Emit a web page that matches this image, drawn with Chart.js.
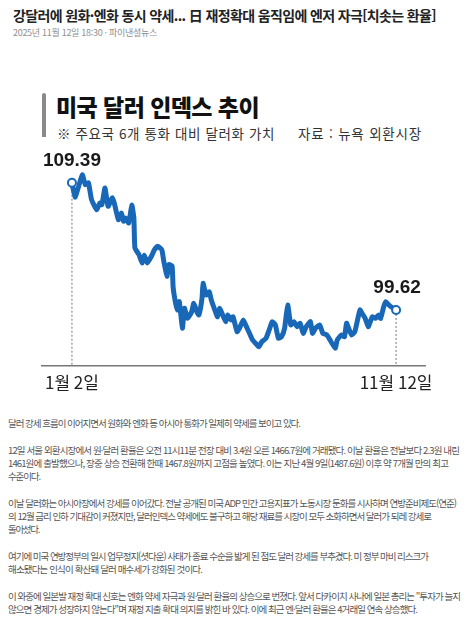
<!DOCTYPE html>
<html lang="ko">
<head>
<meta charset="utf-8">
<title>미국 달러 인덱스 추이</title>
<script src="https://cdn.jsdelivr.net/npm/chart.js@4.4.1/dist/chart.umd.min.js"></script>
<style>
  html, body { margin: 0; padding: 0; background: #fff; }
  body { width: 470px; height: 626px; position: relative; overflow: hidden; font-family: "Noto Sans CJK KR", sans-serif; }
  .abs { position: absolute; white-space: nowrap; }
  .fit { display: inline-block; white-space: nowrap; }
  #headline { left: 13px; top: 6px; font-size: 14px; line-height: 18px; font-weight: 700; color: #222; }
  #meta { left: 13px; top: 27px; font-size: 9px; line-height: 12px; color: #8f8f8f; }
  #bar { position: absolute; left: 42px; top: 93px; width: 3.5px; height: 44px; background: #8a8a8a; border-radius: 2px 2px 0 0; }
  #ctitle { left: 56px; top: 93px; font-size: 23px; line-height: 26px; font-weight: 900; color: #111; }
  #csub1 { left: 57px; top: 125px; font-size: 13.5px; line-height: 16px; color: #333; }
  #csub2 { left: 298px; top: 125px; font-size: 13.5px; line-height: 16px; color: #333; }
  #chartBox { position: absolute; left: 0; top: 140px; width: 470px; height: 260px; }
  #article { position: absolute; left: 8px; top: 417px; font-size: 9.5px; line-height: 13.3px; color: #555; }
  #article p { margin: 0 0 13.3px 0; }
  #article .ln { white-space: nowrap; }
</style>
</head>
<body>
<div class="abs" id="headline"><span class="fit" data-w="423">강달러에 원화·엔화 동시 약세... 日 재정확대 움직임에 엔저 자극[치솟는 환율]</span></div>
<div class="abs" id="meta"><span class="fit" data-w="144">2025년 11월 12일 18:30 · 파이낸셜뉴스</span></div>

<div id="bar"></div>
<div class="abs" id="ctitle"><span class="fit" data-w="203">미국 달러 인덱스 추이</span></div>
<div class="abs" id="csub1"><span class="fit" data-w="218">※ 주요국 6개 통화 대비 달러화 가치</span></div>
<div class="abs" id="csub2"><span class="fit" data-w="124">자료 : 뉴욕 외환시장</span></div>

<div id="chartBox"><canvas id="dxyChart"></canvas></div>

<div id="article">
  <p><span class="ln fit" data-w="292">달러 강세 흐름이 이어지면서 원화와 엔화 등 아시아 통화가 일제히 약세를 보이고 있다.</span></p>
  <p>
    <span class="ln fit" data-w="451">12일 서울 외환시장에서 원·달러 환율은 오전 11시11분 전장 대비 3.4원 오른 1466.7원에 거래됐다. 이날 환율은 전날보다 2.3원 내린</span><br>
    <span class="ln fit" data-w="440">1461원에 출발했으나, 장중 상승 전환해 한때 1467.8원까지 고점을 높였다. 이는 지난 4월 9일(1487.6원) 이후 약 7개월 만의 최고</span><br>
    <span class="ln fit" data-w="32">수준이다.</span>
  </p>
  <p>
    <span class="ln fit" data-w="448">이날 달러화는 아시아장에서 강세를 이어갔다. 전날 공개된 미국 ADP 민간 고용지표가 노동시장 둔화를 시사하며 연방준비제도(연준)</span><br>
    <span class="ln fit" data-w="423">의 12월 금리 인하 기대감이 커졌지만, 달러인덱스 약세에도 불구하고 해당 재료를 시장이 모두 소화하면서 달러가 되레 강세로</span><br>
    <span class="ln fit" data-w="31">돌아섰다.</span>
  </p>
  <p>
    <span class="ln fit" data-w="420">여기에 미국 연방정부의 일시 업무정지(셧다운) 사태가 종료 수순을 밟게 된 점도 달러 강세를 부추겼다. 미 정부 마비 리스크가</span><br>
    <span class="ln fit" data-w="194">해소됐다는 인식이 확산돼 달러 매수세가 강화된 것이다.</span>
  </p>
  <p>
    <span class="ln fit" data-w="452">이 와중에 일본발 재정 확대 신호는 엔화 약세 자극과 원·달러 환율의 상승으로 번졌다. 앞서 다카이치 사나에 일본 총리는 "투자가 늘지</span><br>
    <span class="ln fit" data-w="409">않으면 경제가 성장하지 않는다"며 재정 지출 확대 의지를 밝힌 바 있다. 이에 최근 엔·달러 환율은 4거래일 연속 상승했다.</span>
  </p>
</div>

<script>
// 달러 인덱스 (1월 2일 ~ 11월 12일), x = 연중 일수
const days = [2, 5, 8, 12, 15, 18, 21, 26, 29, 31,
  34, 37, 41, 43, 47, 50, 52, 54, 57, 60,
  62, 63, 67, 70, 72, 75, 79, 82, 85, 89,
  91, 94, 96, 99, 100, 102, 104, 106, 109, 111,
  114, 118, 120, 123, 125, 128, 129, 132, 135, 137,
  141, 143, 145, 148, 151, 153, 156, 158, 162, 165,
  168, 171, 174, 177, 180, 183, 186, 190, 193, 196,
  199, 202, 205, 208, 211, 214, 217, 220, 223, 226,
  229, 233, 235, 238, 242, 245, 249, 252, 257, 259,
  263, 266, 268, 270, 273, 276, 279, 281, 283, 286,
  289, 291, 293, 296, 299, 301, 304, 306, 309, 311,
  316];
const dxyValues = [109.39, 108.29, 108.98, 110.00, 109.24, 109.37, 108.09, 107.32, 107.83, 107.70,
  108.98, 107.58, 108.22, 107.83, 106.55, 107.06, 106.43, 106.68, 106.30, 107.66,
  106.68, 104.38, 103.86, 103.23, 103.82, 103.23, 103.74, 104.25, 104.51, 104.25,
  103.36, 102.21, 103.10, 103.00, 101.38, 100.31, 99.62, 100.26, 98.22, 99.75,
  98.98, 99.49, 100.13, 99.49, 99.24, 100.52, 101.67, 100.77, 101.02, 100.39,
  99.49, 99.10, 99.75, 99.24, 98.72, 99.24, 98.85, 99.10, 97.95, 98.34,
  98.85, 98.34, 97.83, 97.32, 97.06, 96.80, 97.19, 97.45, 98.08, 98.72,
  98.47, 97.45, 97.57, 98.22, 100.00, 98.47, 98.72, 98.34, 98.60, 97.83,
  98.34, 98.72, 97.83, 98.22, 98.47, 97.83, 97.70, 97.32, 96.68, 97.32,
  97.70, 97.57, 98.60, 98.22, 97.70, 97.95, 98.98, 99.62, 99.37, 98.98,
  98.34, 98.72, 99.10, 98.98, 99.24, 98.98, 99.87, 100.26, 100.00, 99.87,
  99.62];
const tickDays = [2, 316];
const tickLabels = ['1월 2일', '11월 12일'];

const lineBlue = '#1868b7';

// 시작점/끝점 점선과 값 표시
const markPlugin = {
  id: 'endMarks',
  beforeDatasetsDraw(chart) {
    const { ctx, chartArea } = chart;
    const pts = chart.getDatasetMeta(0).data;
    ctx.save();
    ctx.strokeStyle = '#8c8c8c';
    ctx.lineWidth = 1.2;
    ctx.setLineDash([2, 2]);
    [pts[0], pts[pts.length - 1]].forEach(p => {
      ctx.beginPath();
      ctx.moveTo(p.x, p.y);
      ctx.lineTo(p.x, chartArea.bottom);
      ctx.stroke();
    });
    ctx.restore();
  },
  afterDatasetsDraw(chart) {
    const { ctx } = chart;
    const pts = chart.getDatasetMeta(0).data;
    const last = pts.length - 1;
    ctx.save();
    ctx.font = 'bold 19px "Liberation Sans", Arial, sans-serif';
    ctx.fillStyle = '#1a1a1a';
    ctx.textAlign = 'center';
    ctx.textBaseline = 'alphabetic';
    ctx.fillText(dxyValues[0].toFixed(2), pts[0].x, pts[0].y - 17);
    ctx.fillText(dxyValues[last].toFixed(2), pts[last].x + 1, pts[last].y - 17);
    ctx.restore();
  }
};

function fitText() {
  document.querySelectorAll('[data-w]').forEach(el => {
    el.style.letterSpacing = '0px';
    const w = el.getBoundingClientRect().width;
    const n = el.textContent.length;
    el.style.letterSpacing = ((+el.dataset.w - w) / n) + 'px';
  });
}

document.addEventListener('DOMContentLoaded', () => {
  Chart.defaults.font.family = '"Noto Sans CJK KR", sans-serif';

  const lastIdx = dxyValues.length - 1;

  new Chart(document.getElementById('dxyChart'), {
    type: 'line',
    data: {
      datasets: [{
        data: days.map((d, i) => ({ x: d, y: dxyValues[i] })),
        borderColor: lineBlue,
        borderWidth: 5,
        borderJoinStyle: 'round',
        borderCapStyle: 'round',
        tension: 0.15,
        pointRadius: ctx => (ctx.dataIndex === 0 || ctx.dataIndex === lastIdx) ? 4 : 0,
        pointBorderWidth: 2,
        pointBorderColor: lineBlue,
        pointBackgroundColor: '#fff',
        pointHitRadius: 0,
        clip: false
      }]
    },
    options: {
      responsive: true,
      maintainAspectRatio: false,
      animation: false,
      layout: { padding: { left: 42, right: 45, top: 10, bottom: 0 } },
      plugins: { legend: { display: false }, tooltip: { enabled: false } },
      scales: {
        x: {
          type: 'linear',
          min: -27,
          max: 344,
          grid: { display: false, drawTicks: false },
          border: { display: true, color: '#777', width: 1.5 },
          afterBuildTicks: axis => { axis.ticks = tickDays.map(v => ({ value: v })); },
          afterFit: axis => { axis.height = 34; },
          ticks: {
            autoSkip: false,
            maxRotation: 0,
            padding: 6,
            color: '#222',
            font: { size: 17 },
            callback: (value, index) => tickLabels[index]
          }
        },
        y: {
          display: false,
          min: 95.32,
          max: 111.9
        }
      }
    },
    plugins: [markPlugin]
  });

  if (document.fonts && document.fonts.ready) {
    document.fonts.ready.then(fitText);
  } else {
    fitText();
  }
});
</script>
</body>
</html>
